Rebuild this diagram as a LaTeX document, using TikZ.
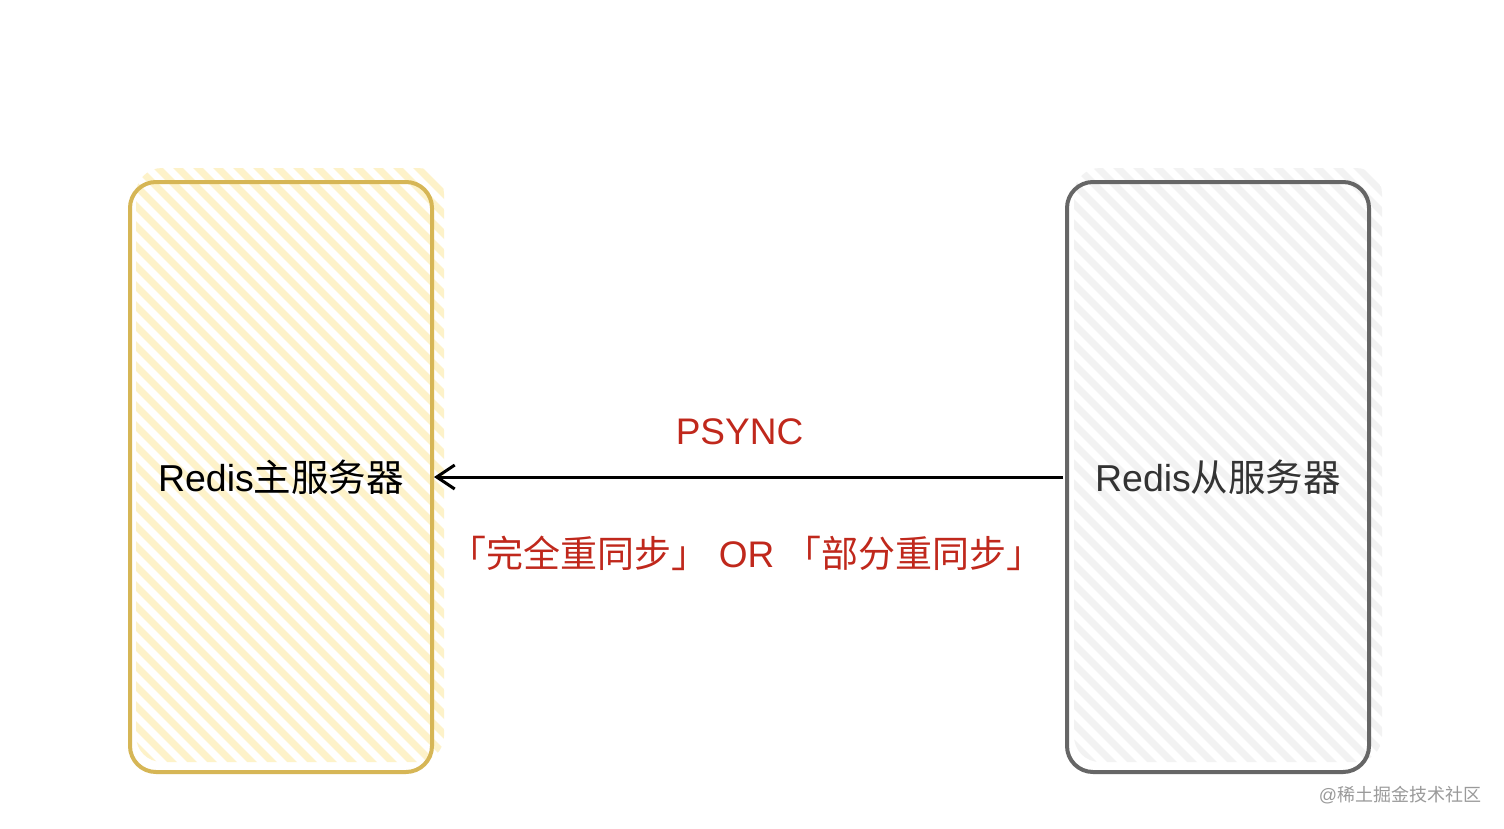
\documentclass[tikz,border=0pt]{standalone}
\usepackage{fontspec}
\setmainfont{Liberation Sans}
\newfontfamily\cjk{Noto Sans CJK SC}
\usetikzlibrary{arrows.meta}
\definecolor{yellowline}{HTML}{D6B656}
\definecolor{yellowhatch}{HTML}{FDF2C9}
\definecolor{grayline}{HTML}{666666}
\definecolor{grayhatch}{HTML}{F2F2F2}
\definecolor{redtext}{HTML}{C0281C}
\definecolor{marktext}{HTML}{9A9A9A}
\tikzset{
  server/.style={draw, line width=4pt, rounded corners=26pt,
    minimum width=302pt, minimum height=590pt, inner sep=0pt},
  hatchlines/.style={line width=7pt},
  redlabel/.style={text=redtext, inner sep=0pt},
}
\begin{document}
\begin{tikzpicture}[x=1pt,y=-1pt]
\useasboundingbox (0,0) rectangle (1504,828);
\fill[white] (0,0) rectangle (1504,828);
% hatch fills (sketch style, slightly offset)
\begin{scope}
  \clip[rounded corners=26pt] (136,168) rectangle (444,762);
  \foreach \i in {-700,-680,...,500}
    \draw[hatchlines, yellowhatch] (\i,150) -- ++(650,650);
\end{scope}
\begin{scope}
  \clip[rounded corners=26pt] (1074,168) rectangle (1382,762);
  \foreach \i in {360,380,...,1560}
    \draw[hatchlines, grayhatch] (\i,150) -- ++(650,650);
\end{scope}
\node[server, draw=yellowline, font=\fontsize{37.5}{42}\selectfont] (master) at (281,477)
  {Redis{\cjk 主服务器}};
\node[server, draw=grayline, text=black!80, font=\fontsize{37.5}{42}\selectfont] (slave) at (1218,477)
  {Redis{\cjk 从服务器}};
\draw[line width=3pt, -{Straight Barb[length=18pt,width=24pt,line width=3pt]}]
  ([xshift=-2pt]slave.west) -- (master.east)
  node[pos=0.5, above=31pt, xshift=-9pt, redlabel, font=\fontsize{37}{42}\selectfont] (psync) {PSYNC}
  node[pos=0.5, below=58pt, xshift=-2pt, redlabel, font=\fontsize{37}{42}\selectfont] (mode)
  {{\cjk 「完全重同步」} OR {\cjk 「部分重同步」}};
\node[text=marktext, font=\fontsize{18}{20}\selectfont, inner sep=0pt] (mark) at (1400,795)
  {@{\cjk 稀土掘金技术社区}};
\end{tikzpicture}
\end{document}
